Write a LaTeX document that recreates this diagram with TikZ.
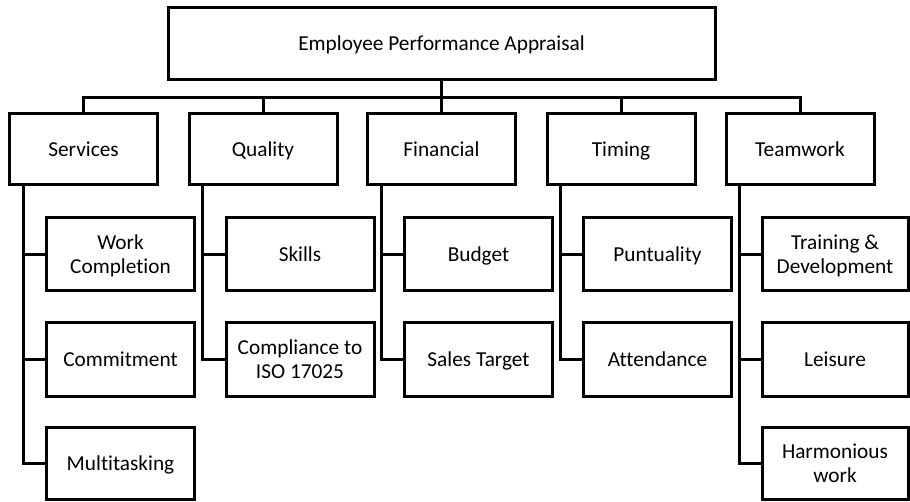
\documentclass[tikz,border=0pt]{standalone}
\usepackage{fontspec}
\setmainfont[Ligatures=NoCommon]{Carlito}
\usetikzlibrary{calc}
\newcommand\zstrut{\rule[-5.2pt]{0pt}{24pt}}
\begin{document}
\begin{tikzpicture}[x=1pt,y=-1pt,
  every node/.style={font=\fontsize{21.3}{24}\selectfont, align=center, inner sep=0pt},
  box/.style={draw, line width=3pt, rectangle, minimum width=148pt, minimum height=73pt},
  lvl1/.style={box, minimum height=71pt},
  conn/.style={line width=3pt}]
\useasboundingbox (0,0) rectangle (910,502);
% top
\node[box, minimum width=547pt, minimum height=72pt] (top) at (441.5,44) {\zstrut Employee Performance Appraisal};
% level 1
\node[lvl1] (s)  at (83.5,149.5) {\zstrut Services};
\node[lvl1] (q)  at (263,149.5) {\zstrut Quality};
\node[lvl1] (f)  at (441.5,149.5) {\zstrut Financial};
\node[lvl1] (t)  at (621,149.5) {\zstrut Timing};
\node[lvl1] (tw) at (800,149.5) {\zstrut Teamwork};
% level 2
\node[box] (s1) at (120.5,254.5) {\zstrut Work\\\zstrut Completion};
\node[box] (s2) at (120.5,359.5) {\zstrut Commitment};
\node[box, minimum height=72pt] (s3) at (120.5,463.5) {\zstrut Multitasking};
\node[box] (q1) at (300,254.5) {\zstrut Skills};
\node[box] (q2) at (300,359.5) {\zstrut Compliance to\\\zstrut ISO 17025};
\node[box] (f1) at (478.5,254.5) {\zstrut Budget};
\node[box] (f2) at (478.5,359.5) {\zstrut Sales Target};
\node[box] (t1) at (657.5,254.5) {\zstrut Puntuality};
\node[box] (t2) at (657.5,359.5) {\zstrut Attendance};
\node[box, minimum width=146pt] (w1) at (835,254.5) {\zstrut Training \&\\\zstrut Development};
\node[box, minimum width=146pt] (w2) at (835,359.5) {\zstrut Leisure};
\node[box, minimum width=146pt, minimum height=72pt] (w3) at (835,463.5) {\zstrut Harmonious\\\zstrut work};
% bus
\coordinate (bus) at (441.5,98);
\draw[conn] (top.south) -- (bus);
\draw[conn] (s.north) -- (s.north |- bus) -- (tw.north |- bus) -- (tw.north);
\draw[conn] (q.north) -- (q.north |- bus);
\draw[conn] (f.north) -- (f.north |- bus);
\draw[conn] (t.north) -- (t.north |- bus);
% children
\foreach \p/\c in {s/s1,s/s2,s/s3,q/q1,q/q2,f/f1,f/f2,t/t1,t/t2,tw/w1,tw/w2,tw/w3}{
  \draw[conn] ([xshift=15pt]\p.south west) |- (\c.west);
}
\end{tikzpicture}
\end{document}
